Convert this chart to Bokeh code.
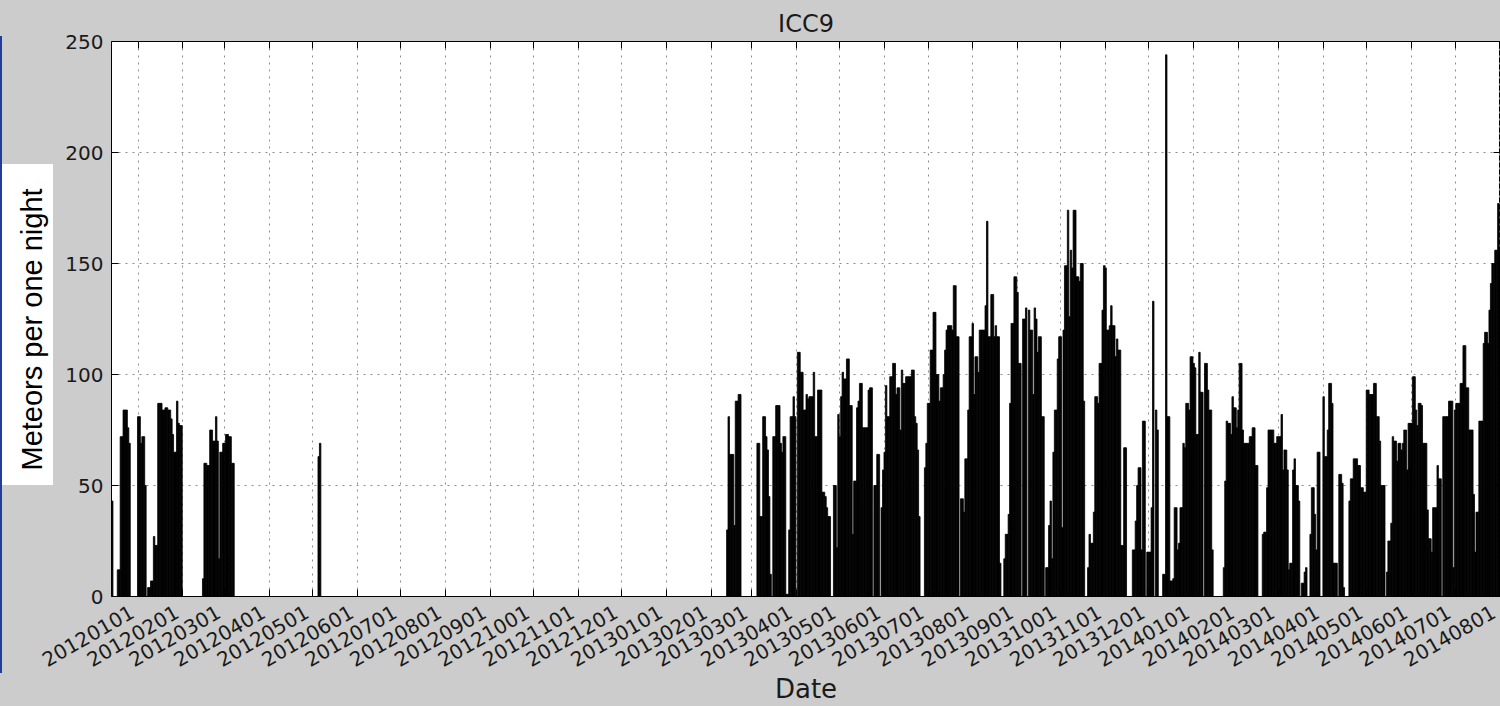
import math
import pandas as pd
from bokeh.plotting import figure
from bokeh.models import Range1d, FixedTicker, LinearAxis, CustomJSTickFormatter, Title
from bokeh.embed import file_html
from bokeh.resources import INLINE

# ---------------- data ----------------
TITLE = "ICC9"
X_LABEL = "Date"
Y_LABEL = "Meteors per one night"

# nightly meteor counts, one value per night, starting at the given date
start_winter_2011 = "2011-12-14"
nights_winter_2011 = [
    43, 0, 0, 0, 12, 12, 72, 72, 84, 84,
    84, 76, 69, 0, 0, 0, 0, 0, 81, 81,
    69, 72, 72, 50, 0, 4, 4, 7, 7, 27,
    23, 23, 87, 87, 87, 84, 84, 85, 85, 84,
    84, 80, 73, 65, 65, 88, 78, 77, 77, 0,
    0, 0, 0, 0, 0, 0, 0, 0, 0, 0,
    0, 0, 0, 8, 60, 60, 59, 59, 75, 75,
    70, 70, 81, 70, 17, 65, 65, 69, 69, 73,
    73, 72, 72, 60, 60,
]

start_may_2012 = "2012-05-05"
nights_may_2012 = [63, 69]

start_spring_2013 = "2013-02-12"
nights_spring_2013 = [
    30, 81, 64, 64, 64, 32, 88, 88, 91, 91,
    0, 0, 0, 0, 0, 0, 0, 0, 0, 0,
    0, 69, 69, 36, 36, 81, 81, 72, 66, 45,
    10, 0, 72, 72, 86, 86, 86, 69, 65, 72,
    72, 1, 1, 30, 81, 81, 90, 81, 0, 110,
    110, 101, 101, 84, 84, 91, 89, 90, 90, 90,
    101, 72, 72, 93, 93, 93, 47, 47, 45, 40,
    36, 36, 0, 0, 50, 50, 22, 82, 72, 90,
    101, 98, 98, 107, 107, 86, 86, 28, 52, 52,
    85, 88, 96, 96, 76, 76, 76, 76, 93, 94,
    94, 0, 50, 50, 64, 64, 0, 40, 57,
]

start_summer_2013 = "2013-06-01"
nights_summer_2013 = [
    65, 95, 81, 81, 99, 99, 105, 105, 91, 94,
    94, 75, 102, 96, 96, 99, 99, 99, 99, 102,
    102, 81, 78, 66, 36, 0, 0, 0, 58, 69,
    87, 87, 111, 111, 128, 128, 100, 100, 88, 94,
    94, 100, 111, 120, 122, 122, 122, 120, 140, 140,
    117, 117, 0, 44, 44, 38, 62, 62, 84, 117,
    117, 123, 91, 108, 108, 101, 120, 120, 120, 120,
    131, 169, 117, 117, 136, 136, 117, 122, 117, 117,
    15, 0, 0, 17, 28, 28, 37, 87, 123, 123,
    144, 144, 137, 105, 105, 0, 125, 125, 130, 0,
    129, 120, 120, 91, 130, 125, 110, 117, 117, 81,
    81, 0, 13, 13, 32, 43, 17, 65, 84, 84,
    107, 117,
]

start_autumn_2013 = "2013-10-01"
nights_autumn_2013 = [
    117, 31, 120, 149, 149, 174, 126, 156, 148, 174,
    174, 144, 144, 142, 150, 150, 88, 0, 0, 13,
    28, 24, 24, 38, 90, 90, 87, 105, 105, 129,
    149, 148, 120, 120, 122, 131, 122, 122, 108, 116,
    111, 111, 23, 23, 67, 67, 0, 0, 0, 0,
    21, 21, 34, 50, 58, 58, 21, 79, 79, 0,
    20, 20, 20, 40, 133, 0, 84, 75, 0, 0,
    0, 10, 10, 244, 81, 81, 7, 7, 8, 40,
    40, 21, 24, 40, 40, 69, 67, 87, 87, 84,
    108, 108, 105, 103, 73, 73, 110, 92, 92, 0,
    105, 105, 93, 84, 84, 21, 0, 0, 0, 0,
    0, 0, 0, 13, 52, 79, 78, 78, 73, 90,
    85, 85, 76,
]

start_2014 = "2014-02-01"
nights_2014 = [
    84, 105, 105, 75, 69, 69, 69, 69, 72, 72,
    76, 76, 59, 59, 0, 0, 0, 28, 29, 29,
    49, 75, 75, 75, 75, 69, 69, 72, 72, 72,
    82, 57, 66, 66, 57, 12, 15, 15, 57, 62,
    50, 50, 43, 0, 6, 6, 11, 13, 0, 0,
    28, 49, 49, 37, 21, 65, 65, 0, 0, 90,
    63, 63, 75, 96, 96, 87, 15, 15, 15, 0,
    55, 55, 51, 4, 0, 0, 0, 43, 53, 53,
    62, 62, 62, 59, 59, 49, 49, 47, 47, 93,
    93, 91, 91, 91, 96, 96, 81, 81, 70, 50,
    50, 50, 0, 11, 25, 25, 33, 72, 70, 70,
    61, 69, 69, 66, 69, 75, 75, 57, 78, 78,
    78, 99, 99, 84, 77, 87, 87, 86, 69, 69,
    69, 39, 26, 26, 20, 40, 40, 40, 59, 53,
    53, 0, 81, 81, 81, 81, 88, 88, 88, 13,
    84, 87, 87, 87, 96, 96, 113, 113, 94, 94,
    75, 75, 75, 46, 20, 38, 38, 79, 79, 79,
    114, 119, 119, 114, 129, 141, 150, 150, 156, 156,
    177, 157,
]

tick_labels = [
    "20120101", "20120201", "20120301", "20120401", "20120501", "20120601",
    "20120701", "20120801", "20120901", "20121001", "20121101", "20121201",
    "20130101", "20130201", "20130301", "20130401", "20130501", "20130601",
    "20130701", "20130801", "20130901", "20131001", "20131101", "20131201",
    "20140101", "20140201", "20140301", "20140401", "20140501", "20140601",
    "20140701", "20140801",
]
y_ticks = [0, 50, 100, 150, 200, 250]

# ---------------- layout constants ----------------
W, H = 1500, 706
FRAME_LEFT = 110
FRAME_TOP, FRAME_BOTTOM = 41, 598
BG = "#cccccc"
TXT = "#1a1a1a"
EDGE_BLUE = "#1f3d99"
LABEL_SHIFT_PX = 6      # matplotlib right-aligns the rotated label's box to the tick

# ---------------- build ----------------
origin = pd.Timestamp("2012-01-01")


def day_index(ts):
    return int((pd.Timestamp(ts) - origin).days)


segments = [
    (start_winter_2011, nights_winter_2011),
    (start_may_2012, nights_may_2012),
    (start_spring_2013, nights_spring_2013),
    (start_summer_2013, nights_summer_2013),
    (start_autumn_2013, nights_autumn_2013),
    (start_2014, nights_2014),
]
xs, tops = [], []
for start, vals in segments:
    d0 = day_index(start)
    xs += [d0 + i for i in range(len(vals))]
    tops += list(vals)

tick_pos = [day_index(pd.to_datetime(t, format="%Y%m%d")) for t in tick_labels]

x0, x1 = min(xs) - 0.5, max(xs) + 0.5
shift_days = LABEL_SHIFT_PX * (x1 - x0) / (W - FRAME_LEFT)

p = figure(width=W, height=H, output_backend="svg", toolbar_location=None,
           x_range=Range1d(x0, x1), y_range=Range1d(y_ticks[0], y_ticks[-1]),
           min_border_left=FRAME_LEFT, min_border_right=0,
           min_border_top=FRAME_TOP, min_border_bottom=H - FRAME_BOTTOM)

# gray page with the blue edge line and the white box behind the y label
p.border_fill_color = None
p.styles = {
    "background": (
        f"linear-gradient({EDGE_BLUE}, {EDGE_BLUE}) 0px 36px / 2px 637px no-repeat, "
        "linear-gradient(#ffffff, #ffffff) 0px 164px / 53px 321px no-repeat, "
        f"{BG}"
    )
}
p.background_fill_color = "white"
p.outline_line_color = "black"
p.outline_line_width = 1

p.title.text = TITLE
p.title.align = "center"
p.title.text_font = "DejaVu Sans"
p.title.text_font_size = "24px"
p.title.text_font_style = "normal"
p.title.text_color = TXT
p.title.standoff = 8

p.vbar(x=xs, top=tops, width=1, bottom=0,
       fill_color="black", line_color="black", line_width=0.8)

xt = FixedTicker(ticks=tick_pos)
yt = FixedTicker(ticks=y_ticks)
blank = CustomJSTickFormatter(code="return ''")

xa = p.xaxis[0]
xa.ticker = xt
xa.formatter = blank
xa.major_label_standoff = 0
xa.major_label_text_font_size = "0px"
ya = p.yaxis[0]
ya.ticker = yt
ya.major_label_standoff = 8
ya.major_label_text_font = "DejaVu Sans"
ya.major_label_text_font_size = "20px"
ya.major_label_text_color = TXT

for ax in (xa, ya):
    ax.axis_line_color = None
    ax.major_tick_in = 7
    ax.major_tick_out = 0
    ax.major_tick_line_color = "black"
    ax.minor_tick_line_color = None

# rotated date labels, right-aligned to their ticks like matplotlib's autofmt_xdate
label_axis = LinearAxis(
    ticker=FixedTicker(ticks=[t - shift_days for t in tick_pos]),
    formatter=CustomJSTickFormatter(args=dict(labels=tick_labels),
                                    code="return labels[index]"),
    axis_line_color=None, major_tick_line_color=None, minor_tick_line_color=None,
    major_tick_in=0, major_tick_out=0, major_label_standoff=14,
    major_label_orientation=math.pi / 6,
    major_label_text_font="DejaVu Sans", major_label_text_font_size="20px",
    major_label_text_color=TXT,
    axis_label=X_LABEL, axis_label_text_font="DejaVu Sans",
    axis_label_text_font_size="26px", axis_label_text_font_style="normal",
    axis_label_text_color=TXT, axis_label_standoff=-3)
p.add_layout(label_axis, "below")

# mirrored inner ticks on top and right
for side, tk in (("above", xt), ("right", yt)):
    ax = LinearAxis(ticker=tk, formatter=blank, axis_line_color=None,
                    major_tick_in=7, major_tick_out=0, minor_tick_line_color=None,
                    major_label_standoff=0, major_label_text_font_size="0px")
    p.add_layout(ax, side)

# boxed y label at the far left
p.add_layout(Title(text=Y_LABEL, align="left", offset=126, vertical_align="middle",
                   standoff=28, text_font="Liberation Sans", text_font_size="29px",
                   text_font_style="normal", text_color="black"), "left")

p.xgrid.ticker = xt
p.ygrid.ticker = yt
for g in (p.xgrid[0], p.ygrid[0]):
    g.grid_line_color = "#8c8c8c"
    g.grid_line_dash = "2 5"
    g.grid_line_width = 1

open("out.html", "w").write(file_html(p, INLINE))
